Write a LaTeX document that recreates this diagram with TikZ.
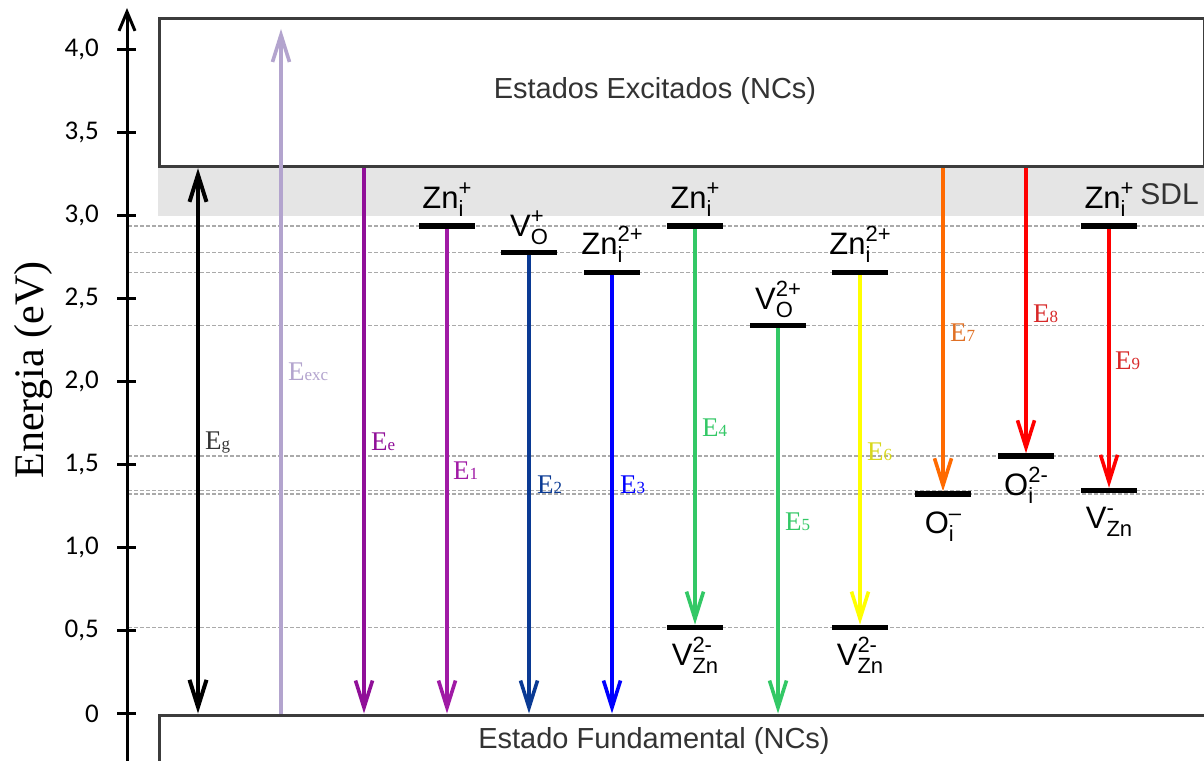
\documentclass[tikz,border=0pt]{standalone}
\usepackage{fontspec}
\setmainfont{Liberation Serif}
\setsansfont{Liberation Sans}
\newfontfamily\calib{Carlito}
\newfontfamily\arialf{Liberation Sans}
\usetikzlibrary{arrows.meta,calc}
\definecolor{boxc}{HTML}{3C3C3C}
\definecolor{bandc}{HTML}{E5E5E5}
\definecolor{dashc}{HTML}{AAAAAA}
\definecolor{txtc}{HTML}{333333}
\definecolor{cLav}{HTML}{B3A4CE}
\definecolor{cPur}{HTML}{900F98}
\definecolor{cPurB}{HTML}{A01AA5}
\definecolor{cNavy}{HTML}{0A3A94}
\definecolor{cBlue}{HTML}{0000FF}
\definecolor{cGreen}{HTML}{33C866}
\definecolor{cYel}{HTML}{FFFF00}
\definecolor{cYelT}{HTML}{D8D81C}
\definecolor{cOra}{HTML}{FF6A00}
\definecolor{cOraT}{HTML}{E07024}
\definecolor{cRed}{HTML}{FF0000}
\definecolor{cRedT}{HTML}{D82828}
\newsavebox\lvsub
\newsavebox\lvsup
\newcommand\lvsmall{\fontsize{22}{22}\selectfont}
\newcommand\lvl[3]{#1\sbox\lvsub{\lvsmall #2}\sbox\lvsup{\lvsmall #3}%
\ifdim\wd\lvsub>\wd\lvsup
\rlap{\raisebox{13pt}{\usebox\lvsup}}\raisebox{-8pt}{\usebox\lvsub}%
\else
\rlap{\raisebox{-8pt}{\usebox\lvsub}}\raisebox{13pt}{\usebox\lvsup}%
\fi}
\newcommand\El[1]{E{\fontsize{17}{17}\selectfont #1}}
\tikzset{
  statebox/.style={draw=boxc, line width=3.2pt, fill=white, inner sep=0pt, anchor=north west},
  boxtext/.style={font=\arialf\fontsize{29}{29}\selectfont, text=txtc, inner sep=0pt},
  lvline/.style={draw=dashc, line width=1.1pt, dash pattern=on 4pt off 2pt},
  axisline/.style={line width=3pt, -{Straight Barb[length=19pt,width=16pt]}},
  tickline/.style={line width=3pt},
  ticklab/.style={font=\calib\fontsize{27}{27}\selectfont, anchor=east, inner sep=0pt},
  arr/.style={line width=3.6pt, -{Straight Barb[length=27pt,width=17pt]}},
  darr/.style={line width=4pt, {Straight Barb[length=27pt,width=17pt]}-{Straight Barb[length=27pt,width=17pt]}},
  bar/.style={fill=black, minimum width=55pt, minimum height=5pt, inner sep=0pt},
  lvlab/.style={font=\arialf\fontsize{31}{31}\selectfont, inner sep=0pt, anchor=base},
  elab/.style={font=\fontsize{27}{27}\selectfont, inner sep=0pt, anchor=base west},
}
\begin{document}
\begin{tikzpicture}[x=1pt,y=-1pt]
\useasboundingbox (0,0) rectangle (1204,760);
\fill[white] (0,0) rectangle (1204,760);
% SDL band
\fill[bandc] (158,165) rectangle (1206,216);
% dashed level lines
\foreach \yy in {226,252.7,272.7,325.7,456,490.5,494,627.3}
  \draw[lvline] (128,\yy) -- (1206,\yy);
% axis
\coordinate (axb) at (127,770);
\coordinate (axt) at (127,8);
\draw[axisline] (axb) -- (axt);
\foreach \v/\t in {0/{0},0.5/{0,5},1/{1,0},1.5/{1,5},2/{2,0},2.5/{2,5},3/{3,0},3.5/{3,5},4/{4,0}}{
  \pgfmathsetmacro\yy{713.5-166*\v}
  \draw[tickline] (117,\yy) -- (136,\yy);
  \node[ticklab] at (99,\yy) {\t};
}
\node[rotate=90, anchor=base, font=\fontsize{42}{42}\selectfont, inner sep=0pt] (ylab) at (43,370) {Energia (eV)};
% state boxes
\node[statebox, minimum width=1045pt, minimum height=148pt] (exc) at (158,17) {};
\node[statebox, minimum width=1100pt, minimum height=100pt] (gnd) at (158,713.5) {};
\node[boxtext] (exct) at (655,91) {Estados Excitados (NCs)};
\node[boxtext] (gndt) at (654,741) {Estado Fundamental (NCs)};
\node[boxtext, anchor=east, font=\arialf\fontsize{30}{30}\selectfont] (sdl) at (1199,194) {SDL};
% level bars (positions)
\node[bar] (z1) at (447,226) {};
\node[bar] (v1) at (529,252.7) {};
\node[bar] (z2) at (612,272.7) {};
\node[bar] (z3) at (695,226) {};
\node[bar] (v2) at (778,325.7) {};
\node[bar] (z4) at (860,272.7) {};
\node[bar] (a1) at (695,627.3) {};
\node[bar] (a2) at (860,627.3) {};
\node[bar] (o1) at (943,494) {};
\node[bar] (o2) at (1026,456) {};
\node[bar] (a3) at (1109,490.5) {};
\node[bar] (z5) at (1109,226) {};
% column coordinates
\coordinate (cg) at (198,0);
\coordinate (cx) at (281,0);
\coordinate (ce) at (364,0);
\coordinate (xtip) at (281,29);
% arrows
\draw[darr] (exc.south -| cg) -- (gnd.north -| cg);
\draw[arr, cLav] (gnd.north -| cx) -- (xtip);
\draw[arr, cPur] (exc.south -| ce) -- (gnd.north -| ce);
\draw[arr, cPurB] (z1.center) -- (gnd.north -| z1);
\draw[arr, cNavy] (v1.center) -- (gnd.north -| v1);
\draw[arr, cBlue] (z2.center) -- (gnd.north -| z2);
\draw[arr, cGreen] (z3.center) -- (a1.north);
\draw[arr, cGreen] (v2.center) -- (gnd.north -| v2);
\draw[arr, cYel] (z4.center) -- (a2.north);
\draw[arr, cOra] (exc.south -| o1) -- (o1.north);
\draw[arr, cRed] (exc.south -| o2) -- (o2.north);
\draw[arr, cRed] (z5.center) -- (a3.north);
% redraw bars on top
\foreach \b in {z1,v1,z2,z3,v2,z4,a1,a2,o1,o2,a3,z5}
  \fill[black] (\b.south west) rectangle (\b.north east);
% level labels above
\node[lvlab] (lz1) at ([yshift=18pt]z1.center) {\lvl{Zn}{i}{+}};
\node[lvlab] (lv1) at ([yshift=16pt]v1.center) {\lvl{V}{O}{+}};
\node[lvlab] (lz2) at ([yshift=18pt]z2.center) {\lvl{Zn}{i}{2+}};
\node[lvlab] (lz3) at ([yshift=18pt]z3.center) {\lvl{Zn}{i}{+}};
\node[lvlab] (lv2) at ([yshift=16pt]v2.center) {\lvl{V}{O}{2+}};
\node[lvlab] (lz4) at ([yshift=18pt]z4.center) {\lvl{Zn}{i}{2+}};
\node[lvlab] (lz5) at ([yshift=18pt]z5.center) {\lvl{Zn}{i}{+}};
% level labels below
\node[lvlab] (la1) at ([yshift=-38pt]a1.center) {\lvl{V}{Zn}{2-}};
\node[lvlab] (la2) at ([yshift=-38pt]a2.center) {\lvl{V}{Zn}{2-}};
\node[lvlab] (lo1) at ([yshift=-39pt]o1.center) {\lvl{O}{i}{–}};
\node[lvlab] (lo2) at ([yshift=-39pt]o2.center) {\lvl{O}{i}{2-}};
\node[lvlab] (la3) at ([yshift=-38pt]a3.center) {\lvl{V}{Zn}{-}};
% transition labels
\node[elab, text=txtc] (tg) at (205,449) {\El{g}};
\node[elab, text=cLav] (tx) at (288,380) {\El{exc}};
\node[elab, text=cPur] (te) at (371,450) {\El{e}};
\node[elab, text=cPurB] (t1) at (453,479) {\El{1}};
\node[elab, text=cNavy] (t2) at (537,493) {\El{2}};
\node[elab, text=cBlue] (t3) at (620,493) {\El{3}};
\node[elab, text=cGreen] (t4) at (702,436) {\El{4}};
\node[elab, text=cGreen] (t5) at (785,530) {\El{5}};
\node[elab, text=cYelT] (t6) at (867,460) {\El{6}};
\node[elab, text=cOraT] (t7) at (950,341) {\El{7}};
\node[elab, text=cRedT] (t8) at (1033,322) {\El{8}};
\node[elab, text=cRedT] (t9) at (1115,369) {\El{9}};
\end{tikzpicture}
\end{document}
